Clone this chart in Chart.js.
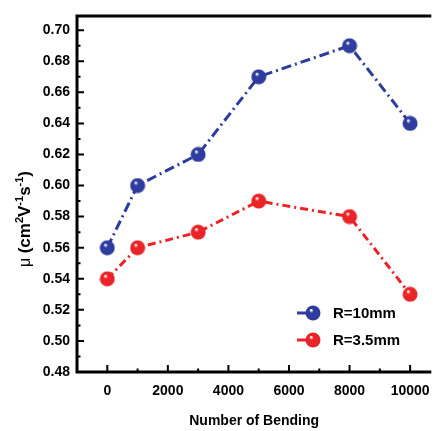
<!DOCTYPE html>
<html>
<head>
<meta charset="utf-8">
<script src="https://cdn.jsdelivr.net/npm/chart.js@4.4.1/dist/chart.umd.min.js"></script>
<style>
  html, body { margin: 0; padding: 0; background: #fff; }
  #wrap { width: 441px; height: 431px; }
</style>
</head>
<body>
<div id="wrap"><canvas id="mobility" width="441" height="431"></canvas></div>
<script>
// data
var bendings = [0, 1000, 3000, 5000, 8000, 10000];
var mu_10mm = [0.56, 0.60, 0.62, 0.67, 0.69, 0.64];
var mu_35mm = [0.54, 0.56, 0.57, 0.59, 0.58, 0.53];
var seriesNames = ['R=10mm', 'R=3.5mm'];
var seriesColors = ['#2d3c9e', '#ea2328'];

// ticks (every 2nd one labelled)
var xTicks = [0, 1000, 2000, 3000, 4000, 5000, 6000, 7000, 8000, 9000, 10000];
var yTicks = [0.48, 0.49, 0.50, 0.51, 0.52, 0.53, 0.54, 0.55, 0.56, 0.57, 0.58, 0.59,
              0.60, 0.61, 0.62, 0.63, 0.64, 0.65, 0.66, 0.67, 0.68, 0.69, 0.70];

var FONT = "'Liberation Sans', Arial, sans-serif";
Chart.defaults.font.family = FONT;
Chart.defaults.color = '#000';

// shaded ball used as point marker
function makeBall(color) {
  var r = 7.5;
  var c = document.createElement('canvas');
  c.width = 16; c.height = 16;
  var g = c.getContext('2d');
  var grad = g.createRadialGradient(6, 5, 0.5, 8, 8, r);
  grad.addColorStop(0, '#ffffff');
  grad.addColorStop(0.25, color);
  grad.addColorStop(1, color);
  g.fillStyle = grad;
  g.beginPath();
  g.arc(8, 8, r, 0, Math.PI * 2);
  g.fill();
  return c;
}
var balls = seriesColors.map(makeBall);

function toPts(ys) {
  return bendings.map(function (x, i) { return { x: x, y: ys[i] }; });
}

// axes frame with inward ticks, legend, y title
var framePlugin = {
  id: 'framePlugin',
  afterDraw: function (chart) {
    var ctx = chart.ctx;
    var a = chart.chartArea;
    var xs = chart.scales.x, ys = chart.scales.y;
    ctx.save();
    ctx.strokeStyle = '#000';
    ctx.lineWidth = 3;
    ctx.beginPath();
    ctx.moveTo(a.left, a.top + 0.5);
    ctx.lineTo(a.right, a.top + 0.5);
    ctx.moveTo(a.left, a.top - 1);
    ctx.lineTo(a.left, a.bottom + 1.5);
    ctx.moveTo(a.left - 1.5, a.bottom);
    ctx.lineTo(a.right, a.bottom);
    ctx.stroke();

    ctx.lineWidth = 2;
    ctx.beginPath();
    xs.ticks.forEach(function (t) {
      var px = xs.getPixelForValue(t.value);
      var len = (t.value % 2000 === 0) ? 7 : 3.5;
      ctx.moveTo(px, a.bottom);
      ctx.lineTo(px, a.bottom - len);
    });
    ys.ticks.forEach(function (t) {
      var py = ys.getPixelForValue(t.value);
      var len = (Math.round(t.value * 100) % 2 === 0) ? 7 : 3.5;
      ctx.moveTo(a.left, py);
      ctx.lineTo(a.left + len, py);
    });
    ctx.stroke();

    // legend
    var lx = 297, ly = [313, 340];
    chart.data.datasets.forEach(function (ds, i) {
      ctx.strokeStyle = seriesColors[i];
      ctx.lineWidth = 3;
      ctx.beginPath();
      ctx.moveTo(lx, ly[i]);
      ctx.lineTo(lx + 12, ly[i]);
      ctx.stroke();
      ctx.drawImage(balls[i], lx + 8, ly[i] - 8);
      ctx.fillStyle = '#000';
      ctx.font = 'bold 15px ' + FONT;
      ctx.textBaseline = 'middle';
      ctx.textAlign = 'left';
      ctx.fillText(ds.label, lx + 36, ly[i] + 1);
    });

    // y axis title, rotated, with superscripts
    var parts = [
      { t: '\u03bc ', f: '16px ' + FONT, dy: 0 },
      { t: '(cm', f: 'bold 17px ' + FONT, dy: 0 },
      { t: '2', f: 'bold 11px ' + FONT, dy: -7 },
      { t: 'V', f: 'bold 17px ' + FONT, dy: 0 },
      { t: '-1', f: 'bold 11px ' + FONT, dy: -7 },
      { t: 's', f: 'bold 17px ' + FONT, dy: 0 },
      { t: '-1', f: 'bold 11px ' + FONT, dy: -7 },
      { t: ')', f: 'bold 17px ' + FONT, dy: 0 }
    ];
    ctx.translate(30, 267);
    ctx.rotate(-Math.PI / 2);
    ctx.textBaseline = 'alphabetic';
    ctx.fillStyle = '#000';
    var cx = 0;
    parts.forEach(function (p) {
      ctx.font = p.f;
      ctx.fillText(p.t, cx, p.dy);
      cx += ctx.measureText(p.t).width;
    });
    ctx.restore();
  }
};

var chart = new Chart(document.getElementById('mobility'), {
  type: 'line',
  data: {
    datasets: [
      {
        label: seriesNames[0],
        data: toPts(mu_10mm),
        borderColor: seriesColors[0],
        borderWidth: 3,
        borderDash: [10, 4, 2, 4],
        pointStyle: balls[0],
        clip: false
      },
      {
        label: seriesNames[1],
        data: toPts(mu_35mm),
        borderColor: seriesColors[1],
        borderWidth: 3,
        borderDash: [8, 4, 2, 4],
        pointStyle: balls[1],
        clip: false
      }
    ]
  },
  options: {
    responsive: false,
    animation: false,
    layout: { padding: { top: 12, left: 0, right: 0, bottom: 0 } },
    plugins: { legend: { display: false }, tooltip: { enabled: false } },
    scales: {
      x: {
        type: 'linear',
        min: -1000,
        max: 10700,
        grid: { display: false, drawTicks: false },
        border: { display: false },
        afterBuildTicks: function (s) { s.ticks = xTicks.map(function (v) { return { value: v }; }); },
        afterFit: function (s) { s.height = 59; },
        ticks: {
          padding: 11,
          maxRotation: 0,
          autoSkip: false,
          font: { size: 14, weight: 'bold' },
          callback: function (v) { return v % 2000 === 0 ? String(v) : ''; }
        },
        title: {
          display: true,
          text: 'Number of Bending',
          font: { size: 14, weight: 'bold' },
          padding: { top: 0, bottom: 1 }
        }
      },
      y: {
        min: 0.48,
        max: 0.7095,
        grid: { display: false, drawTicks: false },
        border: { display: false },
        afterBuildTicks: function (s) { s.ticks = yTicks.map(function (v) { return { value: v }; }); },
        afterFit: function (s) { s.width = 77; },
        ticks: {
          padding: 7,
          autoSkip: false,
          font: { size: 14, weight: 'bold' },
          callback: function (v) { return Math.round(v * 100) % 2 === 0 ? v.toFixed(2) : ''; }
        }
      }
    }
  },
  plugins: [framePlugin]
});
</script>
</body>
</html>
